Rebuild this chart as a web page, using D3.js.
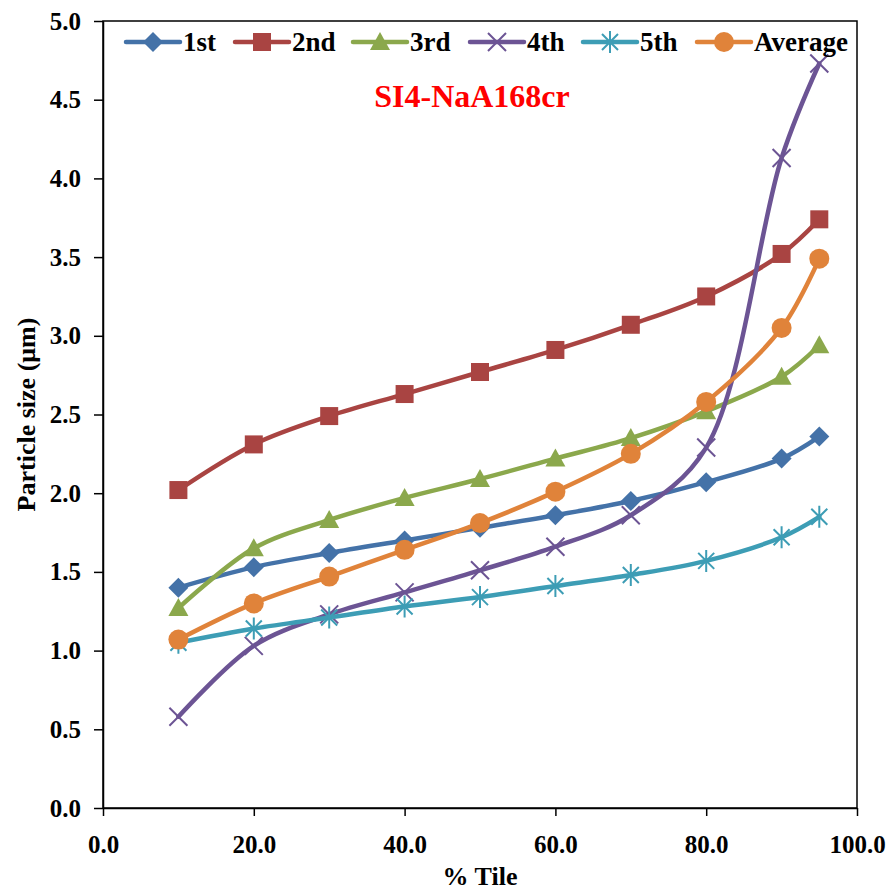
<!DOCTYPE html>
<html>
<head>
<meta charset="utf-8">
<script src="https://cdn.jsdelivr.net/npm/d3@7"></script>
<style>
  body { margin: 0; background: #fff; }
  text { font-family: "Liberation Serif", "Times New Roman", serif; font-weight: bold; }
</style>
</head>
<body>
<svg id="chart" width="892" height="891"></svg>
<script>
// percentile positions
const tiles = [10, 20, 30, 40, 50, 60, 70, 80, 90, 95];

const first   = [1.40, 1.53, 1.62, 1.70, 1.78, 1.86, 1.95, 2.07, 2.22, 2.36];
const second  = [2.02, 2.31, 2.49, 2.63, 2.77, 2.91, 3.07, 3.25, 3.52, 3.74];
const third   = [1.27, 1.65, 1.83, 1.97, 2.09, 2.22, 2.35, 2.52, 2.74, 2.94];
const fourth  = [0.58, 1.03, 1.23, 1.37, 1.51, 1.66, 1.86, 2.29, 4.13, 4.73];
const fifth   = [1.05, 1.14, 1.21, 1.28, 1.34, 1.41, 1.48, 1.57, 1.72, 1.85];
const average = [1.07, 1.30, 1.47, 1.64, 1.81, 2.01, 2.25, 2.58, 3.05, 3.49];

const xTicks = [0, 20, 40, 60, 80, 100];
const yTicks = [0, 0.5, 1, 1.5, 2, 2.5, 3, 3.5, 4, 4.5, 5];

const series = [
  {name: "1st",     vals: first,   color: "#4472a8", marker: "diamond"},
  {name: "2nd",     vals: second,  color: "#a94442", marker: "square"},
  {name: "3rd",     vals: third,   color: "#8ba84c", marker: "triangle"},
  {name: "4th",     vals: fourth,  color: "#6c5494", marker: "x"},
  {name: "5th",     vals: fifth,   color: "#3d9db5", marker: "star"},
  {name: "Average", vals: average, color: "#e0833a", marker: "circle"},
];

const svg = d3.select("#chart");
const plotL = 103, plotR = 857, plotT = 21, plotB = 808;

const x = d3.scaleLinear().domain([0, 100]).range([plotL, plotR]);
const y = d3.scaleLinear().domain([0, 5]).range([plotB, plotT]);

// plot frame
svg.append("rect")
  .attr("x", plotL).attr("y", plotT)
  .attr("width", plotR - plotL).attr("height", plotB - plotT)
  .attr("fill", "none").attr("stroke", "black").attr("stroke-width", 1.5);

// axes
const xAxis = svg.append("g")
  .attr("transform", `translate(0,${plotB})`)
  .call(d3.axisBottom(x).tickValues(xTicks).tickSize(8).tickSizeOuter(0).tickFormat(d3.format(".1f")));
const yAxis = svg.append("g")
  .attr("transform", `translate(${plotL},0)`)
  .call(d3.axisLeft(y).tickValues(yTicks).tickSize(9).tickSizeOuter(0).tickFormat(d3.format(".1f")));

[xAxis, yAxis].forEach(a => {
  a.select(".domain").attr("stroke", "black").attr("stroke-width", 1.5);
  a.selectAll(".tick line").attr("stroke", "black").attr("stroke-width", 1.5);
  a.selectAll(".tick text")
    .attr("fill", "black")
    .style("font-family", "'Liberation Serif', serif")
    .style("font-weight", "bold")
    .style("font-size", "25px");
});
xAxis.selectAll(".tick text").attr("y", 27).attr("dy", "0.71em");
yAxis.selectAll(".tick text").attr("x", -22);

// axis titles
svg.append("text")
  .attr("x", (plotL + plotR) / 2).attr("y", 885)
  .attr("text-anchor", "middle").attr("font-size", "26px")
  .text("% Tile");
svg.append("text")
  .attr("transform", `translate(35,${(plotT + plotB) / 2}) rotate(-90)`)
  .attr("text-anchor", "middle").attr("font-size", "26px")
  .text("Particle size (μm)");

// chart label
svg.append("text")
  .attr("x", 472).attr("y", 107)
  .attr("text-anchor", "middle").attr("font-size", "32px")
  .attr("fill", "#ff0000")
  .text("SI4-NaA168cr");

function drawMarker(g, type, color, cx, cy) {
  if (type === "diamond") {
    g.append("path").attr("d", `M${cx},${cy - 10}L${cx + 10},${cy}L${cx},${cy + 10}L${cx - 10},${cy}Z`)
      .attr("fill", color);
  } else if (type === "square") {
    g.append("rect").attr("x", cx - 9).attr("y", cy - 9)
      .attr("width", 18).attr("height", 18).attr("fill", color);
  } else if (type === "triangle") {
    g.append("path").attr("d", `M${cx},${cy - 10}L${cx + 10},${cy + 8}L${cx - 10},${cy + 8}Z`)
      .attr("fill", color);
  } else if (type === "x") {
    g.append("path").attr("d", `M${cx - 9},${cy - 9}L${cx + 9},${cy + 9}M${cx + 9},${cy - 9}L${cx - 9},${cy + 9}`)
      .attr("stroke", color).attr("stroke-width", 2);
  } else if (type === "star") {
    g.append("path").attr("d", `M${cx - 8},${cy - 8}L${cx + 8},${cy + 8}M${cx + 8},${cy - 8}L${cx - 8},${cy + 8}M${cx},${cy - 11}L${cx},${cy + 11}`)
      .attr("stroke", color).attr("stroke-width", 2);
  } else if (type === "circle") {
    g.append("circle").attr("cx", cx).attr("cy", cy).attr("r", 10).attr("fill", color);
  }
}

const line = d3.line()
  .x(d => x(d[0])).y(d => y(d[1]))
  .curve(d3.curveCatmullRom.alpha(0.5));

const plot = svg.append("g");
series.forEach(s => {
  const pts = tiles.map((t, i) => [t, s.vals[i]]);
  const g = plot.append("g");
  g.append("path").datum(pts)
    .attr("d", line).attr("fill", "none")
    .attr("stroke", s.color).attr("stroke-width", 4.5)
    .attr("stroke-linecap", "round").attr("stroke-linejoin", "round");
  pts.forEach(p => drawMarker(g, s.marker, s.color, x(p[0]), y(p[1])));
});

// legend
const legendX = [126, 235, 353, 470, 583, 697];
const legendY = 42;
const legend = svg.append("g");
series.forEach((s, i) => {
  const lx = legendX[i];
  legend.append("line")
    .attr("x1", lx).attr("x2", lx + 54).attr("y1", legendY).attr("y2", legendY)
    .attr("stroke", s.color).attr("stroke-width", 4.5).attr("stroke-linecap", "round");
  drawMarker(legend, s.marker, s.color, lx + 27, legendY);
  legend.append("text")
    .attr("x", lx + 57).attr("y", legendY + 9)
    .attr("font-size", "27px")
    .text(s.name);
});
</script>
</body>
</html>
